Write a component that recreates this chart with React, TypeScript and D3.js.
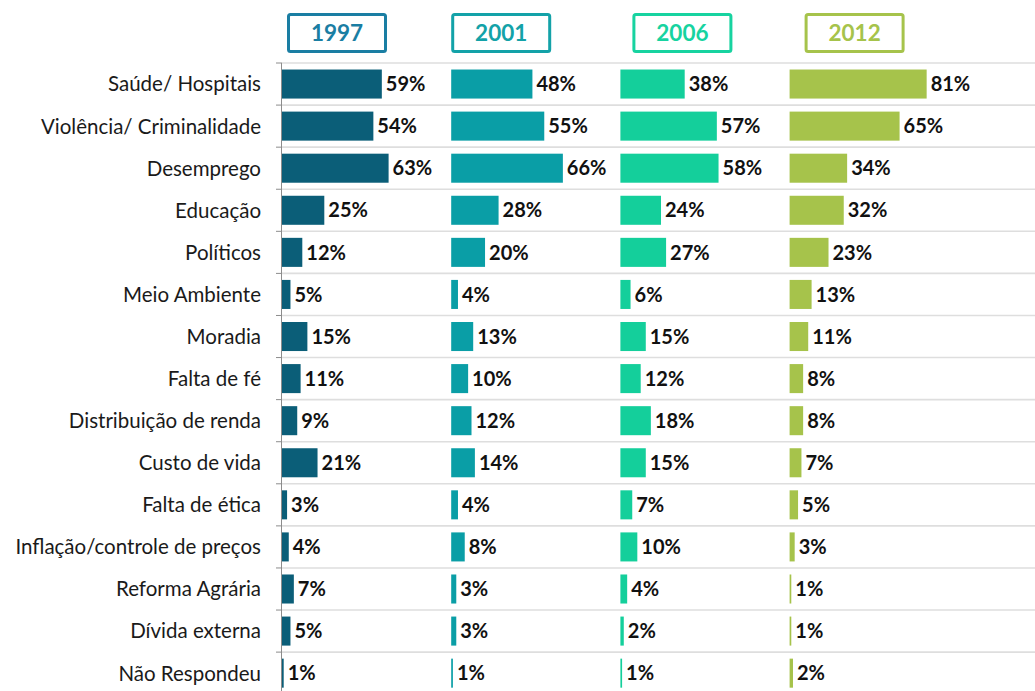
import { useEffect, useRef } from "react";
import * as d3 from "d3";

// categories top → bottom
const CATEGORIES = [
  "Saúde/ Hospitais",
  "Violência/ Criminalidade",
  "Desemprego",
  "Educação",
  "Políticos",
  "Meio Ambiente",
  "Moradia",
  "Falta de fé",
  "Distribuição de renda",
  "Custo de vida",
  "Falta de ética",
  "Inflação/controle de preços",
  "Reforma Agrária",
  "Dívida externa",
  "Não Respondeu",
];

const YEARS = ["1997", "2001", "2006", "2012"];

const V1997 = [59, 54, 63, 25, 12, 5, 15, 11, 9, 21, 3, 4, 7, 5, 1];
const V2001 = [48, 55, 66, 28, 20, 4, 13, 10, 12, 14, 4, 8, 3, 3, 1];
const V2006 = [38, 57, 58, 24, 27, 6, 15, 12, 18, 15, 7, 10, 4, 2, 1];
const V2012 = [81, 65, 34, 32, 23, 13, 11, 8, 8, 7, 5, 3, 1, 1, 2];

const SERIES = [V1997, V2001, V2006, V2012];

const BAR_COLORS = ["#0b5e78", "#0a9ea6", "#14cf9b", "#a6c34b"];
const HEAD_COLORS = ["#1a7ea3", "#13a2a8", "#17d3a0", "#a6c34b"];
// header box offset inside each panel (boxes in the original aren't evenly placed)
const HEAD_OFFSET = [5, 0, 12, 15];

const FONT = "Lato, 'Open Sans', sans-serif";

export default function App() {
  const svgRef = useRef<SVGSVGElement>(null);

  useEffect(() => {
    const svgEl = svgRef.current;
    if (!svgEl) return;

    const width = 1035;
    const height = 691;
    const left = 282;
    const top = 63;
    const panelW = 169.2;

    const svg = d3.select(svgEl).attr("width", width).attr("height", height);
    svg.selectAll("*").remove();

    const y = d3
      .scaleBand<string>()
      .domain(CATEGORIES)
      .range([top, top + 42.08 * CATEGORIES.length])
      .paddingInner(0.31)
      .paddingOuter(0.155);

    // one linear 0-100 scale per year panel
    const panelX = YEARS.map((_, i) =>
      d3.scaleLinear().domain([0, 100]).range([left + i * panelW, left + (i + 1) * panelW])
    );

    // ── row separators ───────────────────────────────────────────────────────
    const step = y.step();
    const bounds = d3.range(CATEGORIES.length).map((i) => top + i * step);
    svg
      .append("g")
      .selectAll("line")
      .data(bounds)
      .join("line")
      .attr("x1", left)
      .attr("x2", width)
      .attr("y1", (d) => d)
      .attr("y2", (d) => d)
      .attr("stroke", "#dedede")
      .attr("stroke-width", 1.6);

    // ── left axis + ticks ────────────────────────────────────────────────────
    svg
      .append("line")
      .attr("x1", left - 0.5)
      .attr("x2", left - 0.5)
      .attr("y1", top)
      .attr("y2", height)
      .attr("stroke", "#8c8c8c")
      .attr("stroke-width", 1);
    svg
      .append("g")
      .selectAll("line")
      .data(bounds)
      .join("line")
      .attr("x1", left - 6)
      .attr("x2", left)
      .attr("y1", (d) => d)
      .attr("y2", (d) => d)
      .attr("stroke", "#8c8c8c");

    // category labels
    svg
      .append("g")
      .selectAll("text")
      .data(CATEGORIES)
      .join("text")
      .attr("x", 261)
      .attr("y", (d) => (y(d) ?? 0) + y.bandwidth() / 2)
      .attr("dy", "0.36em")
      .attr("text-anchor", "end")
      .attr("font-family", FONT)
      .attr("font-size", 20.5)
      .attr("fill", "#1a1a1a")
      .text((d) => d);

    // ── panels ───────────────────────────────────────────────────────────────
    YEARS.forEach((year, i) => {
      const x = panelX[i];
      const vals = SERIES[i];
      const g = svg.append("g");

      // header box
      const hx = x(0) + HEAD_OFFSET[i];
      g.append("rect")
        .attr("x", hx + 1.5)
        .attr("y", 14.5)
        .attr("width", 97)
        .attr("height", 37)
        .attr("rx", 2)
        .attr("fill", "white")
        .attr("stroke", HEAD_COLORS[i])
        .attr("stroke-width", 3);
      g.append("text")
        .attr("x", hx + 50)
        .attr("y", 33)
        .attr("dy", "0.36em")
        .attr("text-anchor", "middle")
        .attr("font-family", FONT)
        .attr("font-weight", 700)
        .attr("font-size", 22.5)
        .attr("fill", HEAD_COLORS[i])
        .text(year);

      g.selectAll("rect.bar")
        .data(vals)
        .join("rect")
        .attr("class", "bar")
        .attr("x", x(0))
        .attr("y", (_, j) => y(CATEGORIES[j]) ?? 0)
        .attr("width", (d) => Math.max(1, x(d) - x(0)))
        .attr("height", y.bandwidth())
        .attr("fill", BAR_COLORS[i]);

      g.selectAll("text.val")
        .data(vals)
        .join("text")
        .attr("class", "val")
        .attr("x", (d) => x(d) + 4)
        .attr("y", (_, j) => (y(CATEGORIES[j]) ?? 0) + y.bandwidth() / 2)
        .attr("dy", "0.36em")
        .attr("font-family", FONT)
        .attr("font-weight", 700)
        .attr("font-size", 20)
        .attr("fill", "#111")
        .text((d) => `${d}%`);
    });
  }, []);

  return (
    <svg
      ref={svgRef}
      style={{ position: "absolute", left: 0, top: 0, background: "white" }}
    />
  );
}
